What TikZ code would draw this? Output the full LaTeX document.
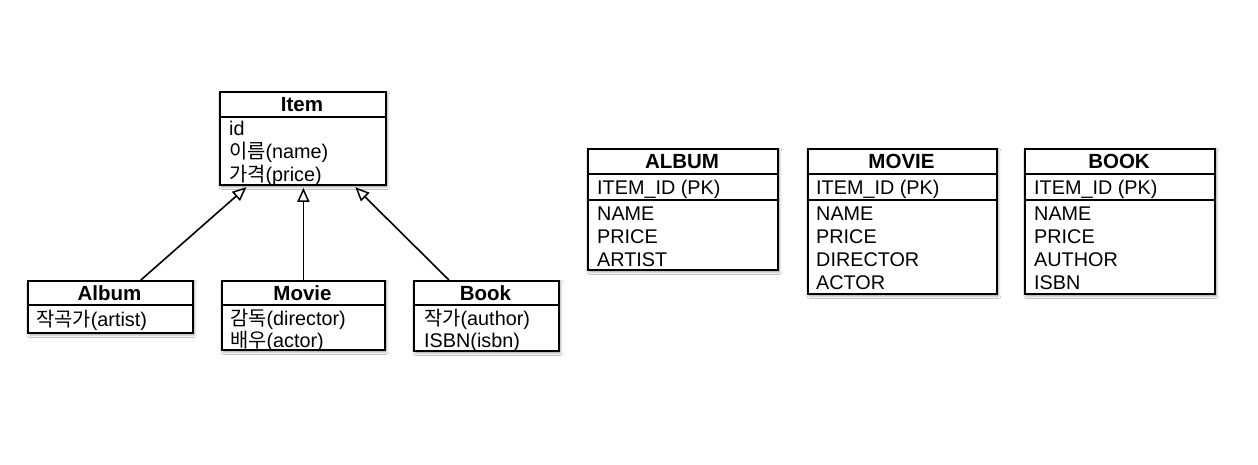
\documentclass[tikz,border=0pt]{standalone}
\usepackage{fontspec}
\setmainfont{Liberation Sans}
\newfontfamily\kr{Noto Sans CJK KR}
\usetikzlibrary{arrows.meta,shadows.blur}
\begin{document}
\begin{tikzpicture}[x=1pt,y=-1pt,
  box/.style={draw, line width=1.8pt, fill=white, rectangle, inner sep=0pt, anchor=north west,
    blur shadow={shadow xshift=1.5pt, shadow yshift=-2pt, shadow blur radius=2.5pt, shadow opacity=40}},
  sep/.style={line width=1.8pt},
  txt/.style={anchor=base west, inner sep=0pt, font=\fontsize{19.8}{23}\selectfont},
  hd/.style={anchor=base, inner sep=0pt, font=\fontsize{20.5}{24}\selectfont\bfseries},
  inh/.style={line width=1.6pt, shorten >=2pt, -{Triangle[open, length=14pt, width=12pt, line width=1.5pt]}}]
\fill[white] (0,0) rectangle (1258,464);
\useasboundingbox (0,0) rectangle (1258,464);

% ---------- class diagram ----------
\node[box, minimum width=166pt, minimum height=93pt] (item) at (219,91) {};
\draw[sep] (item.west |- 0,117) -- (item.east |- 0,117);
\node[hd] (itemh) at (302,111) {Item};
\node[txt] (itema) at (229,135) {id};
\node[txt] (itemb) at (229,158) {{\kr 이름}(name)};
\node[txt] (itemc) at (229,181) {{\kr 가격}(price)};

\node[box, minimum width=165pt, minimum height=52pt] (album) at (27,280) {};
\draw[sep] (album.west |- 0,305) -- (album.east |- 0,305);
\node[hd] (albumh) at (109.5,300) {Album};
\node[txt] (albuma) at (36,326) {{\kr 작곡가}(artist)};

\node[box, minimum width=163pt, minimum height=69pt] (movie) at (221,280) {};
\draw[sep] (movie.west |- 0,305) -- (movie.east |- 0,305);
\node[hd] (movieh) at (302.5,300) {Movie};
\node[txt] (moviea) at (230,325) {{\kr 감독}(director)};
\node[txt] (movieb) at (230,347) {{\kr 배우}(actor)};

\node[box, minimum width=145pt, minimum height=70pt] (book) at (413,280) {};
\draw[sep] (book.west |- 0,305) -- (book.east |- 0,305);
\node[hd] (bookh) at (485.5,300) {Book};
\node[txt] (booka) at (424,325) {{\kr 작가}(author)};
\node[txt] (bookb) at (424,347) {ISBN(isbn)};

\draw[inh] ([xshift=30.5pt]album.north) -- ([xshift=-55pt]item.south);
\draw[inh] (movie.north) -- (movie.north |- item.south);
\draw[inh] ([xshift=-37.5pt]book.north) -- ([xshift=51pt]item.south);

% ---------- tables ----------
\node[box, minimum width=190pt, minimum height=121pt] (talbum) at (587,148) {};
\draw[sep] (talbum.west |- 0,174) -- (talbum.east |- 0,174);
\draw[sep] (talbum.west |- 0,200) -- (talbum.east |- 0,200);
\node[hd] (talbumh) at (682,168) {ALBUM};
\node[txt] (talbuma) at (597,194) {ITEM\_ID (PK)};
\node[txt] (talbumb) at (597,220) {NAME};
\node[txt] (talbumc) at (597,243) {PRICE};
\node[txt] (talbumd) at (597,266) {ARTIST};

\node[box, minimum width=189pt, minimum height=145pt] (tmovie) at (807,148) {};
\draw[sep] (tmovie.west |- 0,174) -- (tmovie.east |- 0,174);
\draw[sep] (tmovie.west |- 0,200) -- (tmovie.east |- 0,200);
\node[hd] (tmovieh) at (901.5,168) {MOVIE};
\node[txt] (tmoviea) at (816,194) {ITEM\_ID (PK)};
\node[txt] (tmovieb) at (816,220) {NAME};
\node[txt] (tmoviec) at (816,243) {PRICE};
\node[txt] (tmovied) at (816,266) {DIRECTOR};
\node[txt] (tmoviee) at (816,289) {ACTOR};

\node[box, minimum width=190pt, minimum height=145pt] (tbook) at (1024,148) {};
\draw[sep] (tbook.west |- 0,174) -- (tbook.east |- 0,174);
\draw[sep] (tbook.west |- 0,200) -- (tbook.east |- 0,200);
\node[hd] (tbookh) at (1119,168) {BOOK};
\node[txt] (tbooka) at (1034,194) {ITEM\_ID (PK)};
\node[txt] (tbookb) at (1034,220) {NAME};
\node[txt] (tbookc) at (1034,243) {PRICE};
\node[txt] (tbookd) at (1034,266) {AUTHOR};
\node[txt] (tbooke) at (1034,289) {ISBN};
\end{tikzpicture}
\end{document}
